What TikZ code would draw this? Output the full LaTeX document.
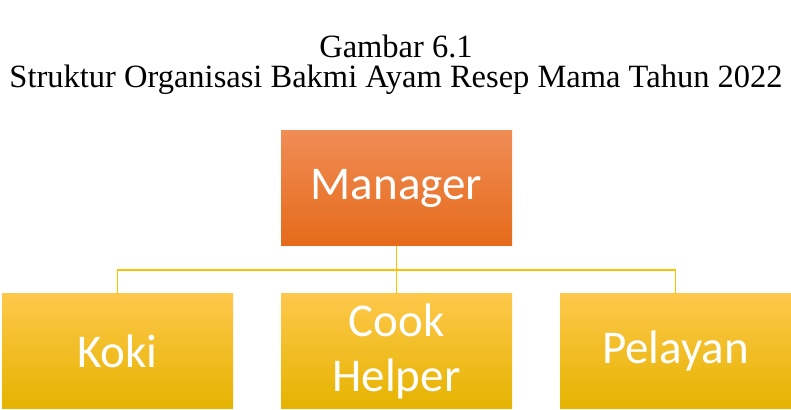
\documentclass[tikz,border=0pt]{standalone}
\usepackage{fontspec}
\usepackage{tikz}
\usetikzlibrary{positioning}
\newfontfamily\captionfont{Liberation Serif}
\newfontfamily\boxfont{Carlito}
\definecolor{orgline}{HTML}{FFC000}

\begin{document}
\begin{tikzpicture}[x=1pt, y=-1pt,
    caption/.style={font=\captionfont\fontsize{32.5}{36}\selectfont, inner sep=0pt},
    unit/.style={minimum width=231pt, minimum height=115pt, outer sep=0pt, inner sep=0pt,
        align=center, text=white, font=\boxfont\fontsize{47}{55}\selectfont},
    boss/.style={unit, top color={rgb,255:red,240;green,141;blue,85}, middle color={rgb,255:red,244;green,124;blue,39}, bottom color={rgb,255:red,229;green,106;blue,26}},
    staff/.style={unit, top color={rgb,255:red,254;green,200;blue,75}, middle color={rgb,255:red,255;green,192;blue,0}, bottom color={rgb,255:red,229;green,179;blue,0}},
    link/.style={draw=orgline, line width=1.5pt}]
    \useasboundingbox (0,0) rectangle (791,409);
    \node[caption] (number) at (396,46) {Gambar 6.1};
    \node[caption] (title) at (396,80) {Struktur Organisasi Bakmi Ayam Resep Mama Tahun 2022};
    \node[boss] (manager) at (396.5,188) {Manager};
    \node[staff, below=48pt of manager] (cook) {Cook\\Helper};
    \node[staff, left=48pt of cook] (koki) {Koki};
    \node[staff, right=48pt of cook] (pelayan) {Pelayan};
    \coordinate (fork) at ([yshift=23.5pt]cook.north);
    \draw[link] (manager.south) -- (cook.north);
    \draw[link] (koki.north) |- (fork) -| (pelayan.north);
\end{tikzpicture}
\end{document}
